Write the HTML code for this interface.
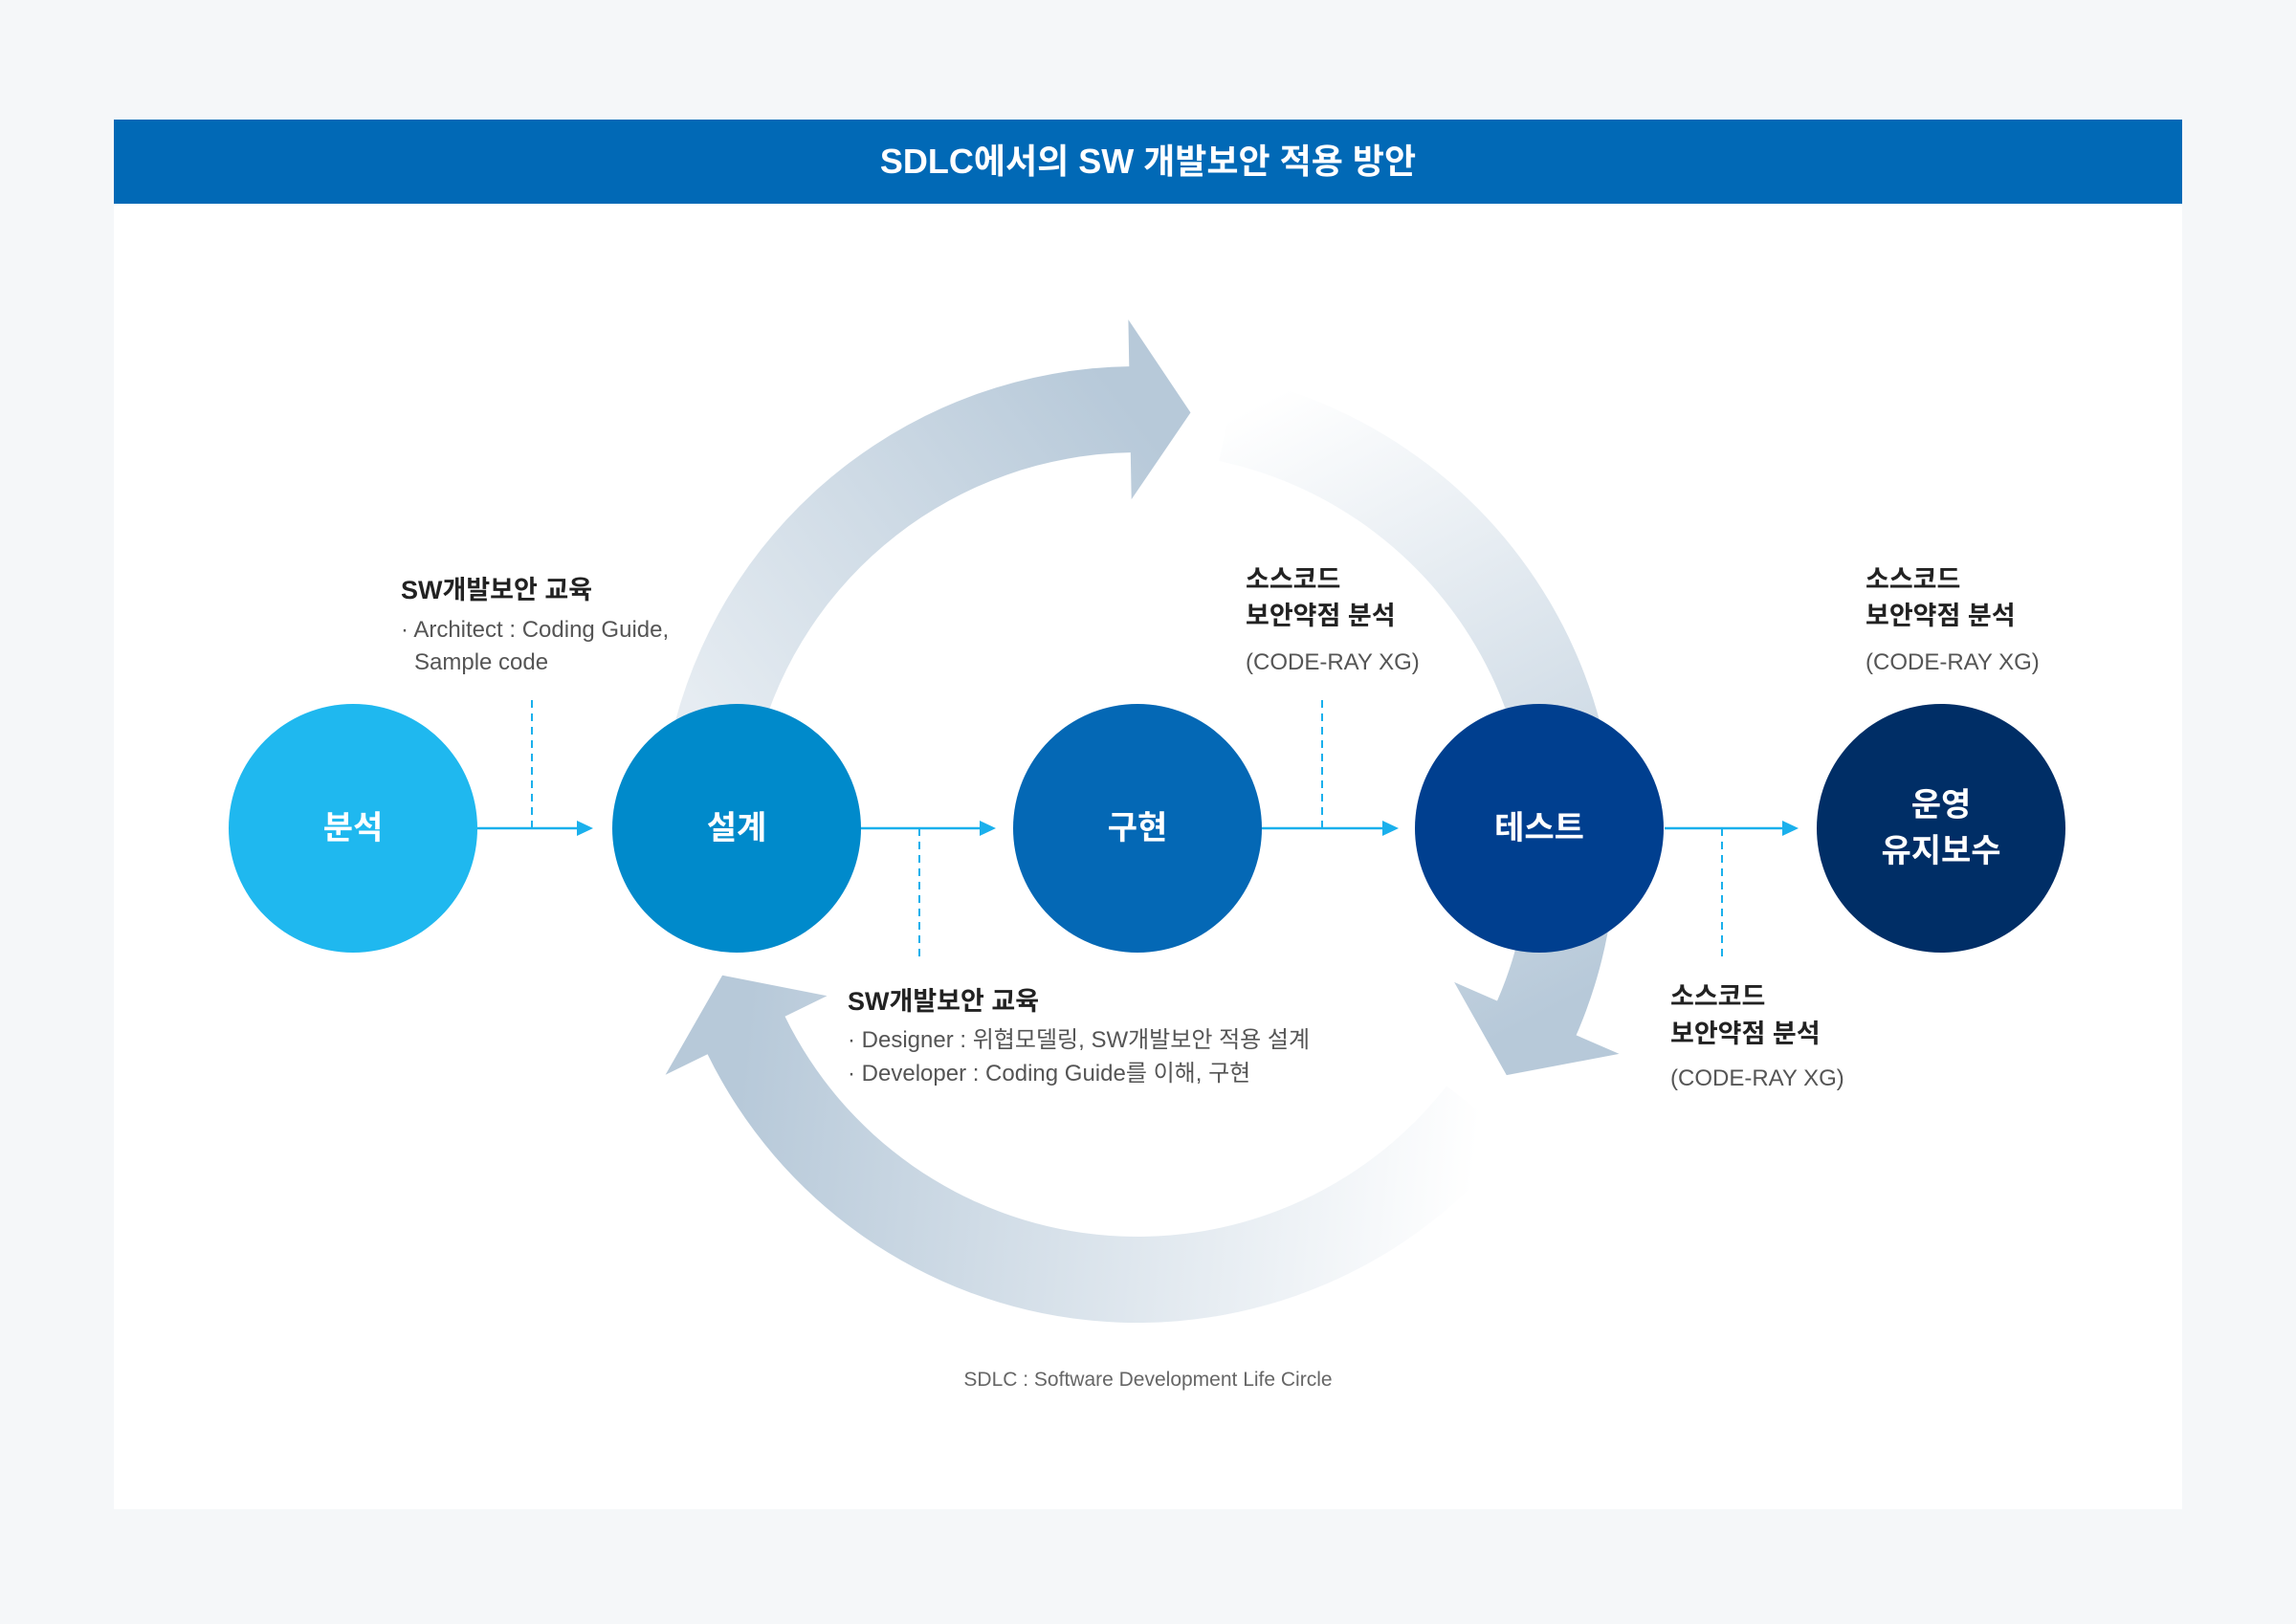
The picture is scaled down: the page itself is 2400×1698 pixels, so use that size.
<!DOCTYPE html>
<html><head><meta charset="utf-8"><style>
*{margin:0;padding:0;box-sizing:border-box}
body{width:2400px;height:1698px;background:#f5f7f9;position:relative;overflow:hidden;font-family:"Liberation Sans","Noto Sans CJK KR",sans-serif}
.panel{position:absolute;left:119px;top:125px;width:2162px;height:1453px;background:#fff}
.hdr{position:absolute;left:119px;top:125px;width:2162px;height:88px;background:#0169b6;color:#fff;font-size:36px;font-weight:600;text-align:center;line-height:88px}
.c{position:absolute;width:260px;height:260px;border-radius:50%;top:736px;color:#fff;font-weight:700;font-size:34px;display:flex;align-items:center;justify-content:center;text-align:center;line-height:48px}
.t{position:absolute;white-space:nowrap;line-height:1.2}
.b{font-size:27px;font-weight:700;color:#222}
.g{font-size:24px;color:#555}
</style></head><body>
<div class="panel"></div>
<div class="hdr">SDLC에서의 SW 개발보안 적용 방안</div>
<svg width="2400" height="1698" style="position:absolute;left:0;top:0">
<defs>
<linearGradient id="g1" gradientUnits="userSpaceOnUse" x1="749" y1="765" x2="1182" y2="430"><stop offset="0" stop-color="#b7c9d9" stop-opacity="0.35"/><stop offset="1" stop-color="#b7c9d9"/></linearGradient>
<linearGradient id="g2" gradientUnits="userSpaceOnUse" x1="1284" y1="438" x2="1606" y2="1064"><stop offset="0" stop-color="#b7c9d9" stop-opacity="0"/><stop offset="1" stop-color="#b7c9d9"/></linearGradient>
<linearGradient id="g3" gradientUnits="userSpaceOnUse" x1="1548" y1="1163" x2="780" y2="1083"><stop offset="0" stop-color="#b7c9d9" stop-opacity="0"/><stop offset="1" stop-color="#b7c9d9"/></linearGradient>
</defs>
<path fill="url(#g1)" d="M706,753.6 A500,500 0 0 1 1180.3,383.1 L1179.4,334.1 L1244.5,431.4 L1182.7,522.1 L1181.8,473.1 A410,410 0 0 0 793,776.9 Z"/>
<path fill="url(#g2)" d="M1293,393.9 A500,500 0 0 1 1647.6,1082.4 L1692.5,1101.9 L1574.8,1124.1 L1520.1,1026.9 L1565,1046.5 A410,410 0 0 0 1274.2,482 Z"/>
<path fill="url(#g3)" d="M1583,1190.9 A500,500 0 0 1 739.6,1102.2 L695.6,1123.7 L755.1,1019.8 L864.5,1041.3 L820.5,1062.7 A410,410 0 0 0 1512.1,1135.4 Z"/>
<g stroke="#1ab0ec" stroke-width="2.5" fill="none">
<line x1="499" y1="866" x2="610" y2="866"/>
<line x1="900" y1="866" x2="1031" y2="866"/>
<line x1="1319" y1="866" x2="1452" y2="866"/>
<line x1="1740" y1="866" x2="1870" y2="866"/>
<g stroke-dasharray="8,6" stroke-width="2">
<line x1="556" y1="732" x2="556" y2="866"/>
<line x1="961" y1="866" x2="961" y2="1003"/>
<line x1="1382" y1="732" x2="1382" y2="866"/>
<line x1="1800" y1="866" x2="1800" y2="1003"/>
</g></g>
<g fill="#1ab0ec">
<polygon points="620,866 603,858 603,874"/>
<polygon points="1041,866 1024,858 1024,874"/>
<polygon points="1462,866 1445,858 1445,874"/>
<polygon points="1880,866 1863,858 1863,874"/>
</g>
</svg>
<div class="c" style="left:239px;background:#1fb8ef">분석</div>
<div class="c" style="left:640px;background:#008acb">설계</div>
<div class="c" style="left:1059px;background:#0468b5">구현</div>
<div class="c" style="left:1479px;background:#003f8f">테스트</div>
<div class="c" style="left:1899px;background:#002e66">운영<br>유지보수</div>

<div class="t b" style="left:419px;top:601px">SW개발보안 교육</div>
<div class="t g" style="left:419px;top:645px">· Architect : Coding Guide,</div>
<div class="t g" style="left:433px;top:679px">Sample code</div>

<div class="t b" style="left:1302px;top:590px">소스코드</div>
<div class="t b" style="left:1302px;top:628px">보안약점 분석</div>
<div class="t g" style="left:1302px;top:679px">(CODE-RAY XG)</div>

<div class="t b" style="left:1950px;top:590px">소스코드</div>
<div class="t b" style="left:1950px;top:628px">보안약점 분석</div>
<div class="t g" style="left:1950px;top:679px">(CODE-RAY XG)</div>

<div class="t b" style="left:1746px;top:1026px">소스코드</div>
<div class="t b" style="left:1746px;top:1065px">보안약점 분석</div>
<div class="t g" style="left:1746px;top:1114px">(CODE-RAY XG)</div>

<div class="t b" style="left:886px;top:1031px">SW개발보안 교육</div>
<div class="t g" style="left:886px;top:1074px">· Designer : 위협모델링, SW개발보안 적용 설계</div>
<div class="t g" style="left:886px;top:1109px">· Developer : Coding Guide를 이해, 구현</div>

<div class="t" style="left:0;width:2400px;text-align:center;top:1430px;font-size:21px;color:#666">SDLC : Software Development Life Circle</div>
</body></html>
